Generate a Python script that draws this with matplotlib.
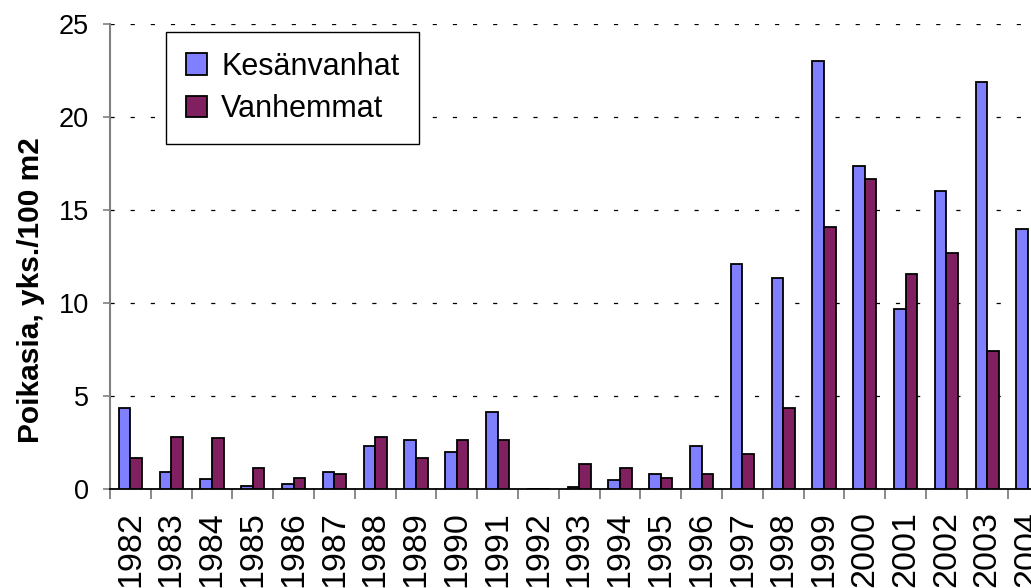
import numpy as np
import matplotlib
matplotlib.use("Agg")
import matplotlib.pyplot as plt
from matplotlib.patches import Patch

plt.rcParams['font.family'] = ['Liberation Sans', 'DejaVu Sans']
plt.rcParams['lines.scale_dashes'] = False

years = [str(y) for y in range(1982, 2005)]
kesanvanhat = [4.34, 0.9, 0.55, 0.16, 0.25, 0.9, 2.29, 2.62, 1.97, 4.12, 0.0,
               0.13, 0.48, 0.79, 2.29, 12.08, 11.33, 23.03, 17.35, 9.69, 16.04,
               21.86, 14.0]
vanhemmat = [1.65, 2.81, 2.72, 1.11, 0.57, 0.79, 2.81, 1.65, 2.62, 2.62, 0.0,
             1.33, 1.11, 0.57, 0.79, 1.87, 4.34, 14.1, 16.68, 11.54, 12.71,
             7.44, np.nan]
series_names = ["Kesänvanhat", "Vanhemmat"]
colors = ["#8080FF", "#802060"]
yticks = [0, 5, 10, 15, 20, 25]
ylabel = "Poikasia, yks./100 m2"

W, H = 1031, 588
fig = plt.figure(figsize=(W / 100, H / 100), dpi=100)
ax = fig.add_axes([110 / W, 99 / H, 938.4 / W, 465 / H])

x = np.arange(len(years))
w = 0.2857
ax.bar(x - w / 2, kesanvanhat, width=w, color=colors[0], edgecolor='black',
       linewidth=1.3, zorder=3)
ax.bar(x + w / 2, vanhemmat, width=w, color=colors[1], edgecolor='black',
       linewidth=1.3, zorder=3)

ax.set_xlim(-0.5, len(years) - 0.5)
ax.set_ylim(0, 25)
ax.set_yticks(yticks)
ax.set_yticklabels([str(t) for t in yticks], fontsize=19.5)
ax.tick_params(axis='y', direction='out', length=5, width=1.2, color='#808080',
               pad=10)

ax.set_xticks(x)
ax.set_xticklabels(years, rotation=90, fontsize=24.5, va='top', ha='center')
ax.tick_params(axis='x', which='major', length=0, pad=16)
ax.set_xticks(np.arange(len(years) + 1) - 0.5, minor=True)
ax.tick_params(axis='x', which='minor', direction='out', length=7, width=1.3,
               color='#808080')

ax.yaxis.grid(True, color='black', linewidth=0.9, linestyle=(0, (3, 11.5)),
              zorder=0)
ax.set_axisbelow(True)

for s in ['top', 'right']:
    ax.spines[s].set_visible(False)
ax.spines['left'].set_color('#808080')
ax.spines['left'].set_linewidth(1.5)
ax.spines['bottom'].set_color('black')
ax.spines['bottom'].set_linewidth(1.3)

fig.text(31 / W, 1 - 290 / H, ylabel, rotation=90, ha='center', va='center',
         fontsize=21.5, fontweight='bold')

handles = [Patch(facecolor=c, edgecolor='black', linewidth=1.3) for c in colors]
leg = fig.legend(handles, series_names, loc='upper left',
                 bbox_to_anchor=(166 / W, 1 - 32 / H), borderaxespad=0,
                 fontsize=22, handlelength=0.7, handleheight=0.7,
                 handletextpad=0.45, labelspacing=0.4, borderpad=0.65,
                 fancybox=False, shadow=False, framealpha=1)
leg.get_frame().set_edgecolor('black')
leg.get_frame().set_linewidth(1.0)

fig.savefig("out.png", dpi=100)
